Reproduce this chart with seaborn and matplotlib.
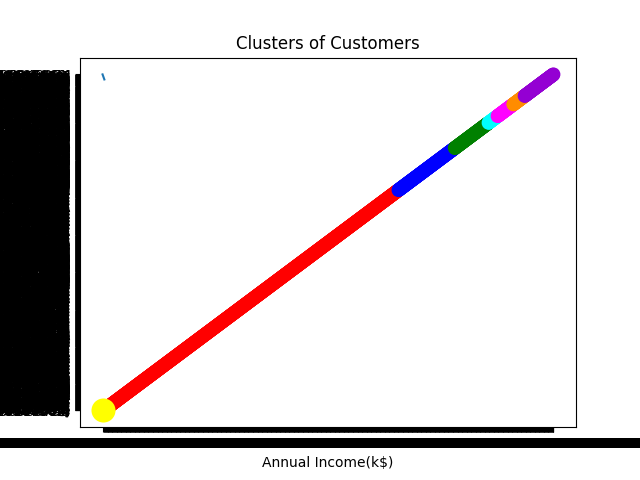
import numpy as np
import pandas as pd
import matplotlib
matplotlib.use("Agg")
import matplotlib.pyplot as plt
import seaborn as sns

# clusters as they appear along the (categorical) diagonal
cluster_names = ["Cluster 1", "Cluster 2", "Cluster 3", "Cluster 4",
                 "Cluster 5", "Cluster 6", "Cluster 7"]
cluster_sizes = [655, 125, 75, 20, 35, 25, 65]
cluster_colors = ["red", "blue", "green", "cyan", "magenta", "darkorange", "darkviolet"]

# the stray line in the top-left corner (category positions)
line_x = [-2, 2]
line_y = [999, 984]

# centroid drawn on the first category
centroid_pos = [0]

# label endings of different widths, so the overlapped labels blur together
label_ends = ["", ".", ")", "]", " e", "%", "-1", "]]", ", ", "'"]

n_points = sum(cluster_sizes)
# category labels are long numeric strings of mixed length (illegible in the original)
income_labels = [f"{np.sqrt(i + 2) * 17:.{20 + i % 13}f}" for i in range(n_points)]
score_labels = [f"{np.sqrt(i + 3) * 3.1:.{8 + i % 13}f}{label_ends[i % 10]}"
                for i in range(n_points)]

rows = []
pos = 0
for name, size in zip(cluster_names, cluster_sizes):
    for _ in range(size):
        rows.append({"pos": pos, "cluster": name})
        pos += 1
df = pd.DataFrame(rows)

fig, ax = plt.subplots(figsize=(6.4, 4.8), dpi=100)

sns.lineplot(x=line_x, y=line_y, ax=ax, color="#1f77b4", linewidth=1.5,
             sort=False, estimator=None)
sns.scatterplot(data=df, x="pos", y="pos", hue="cluster",
                palette=dict(zip(cluster_names, cluster_colors)),
                s=100, linewidth=0, legend=False, ax=ax)
sns.scatterplot(x=centroid_pos, y=centroid_pos, color="yellow", s=300,
                linewidth=0, ax=ax)

ax.set_xticks(range(n_points), income_labels)
ax.set_yticks(range(n_points), score_labels)
ax.set_title("Clusters of Customers")
ax.set_xlabel("Annual Income(k$)")
ax.set_ylabel("Spending Score (1-100)")

fig.savefig("out.png", dpi=100)
